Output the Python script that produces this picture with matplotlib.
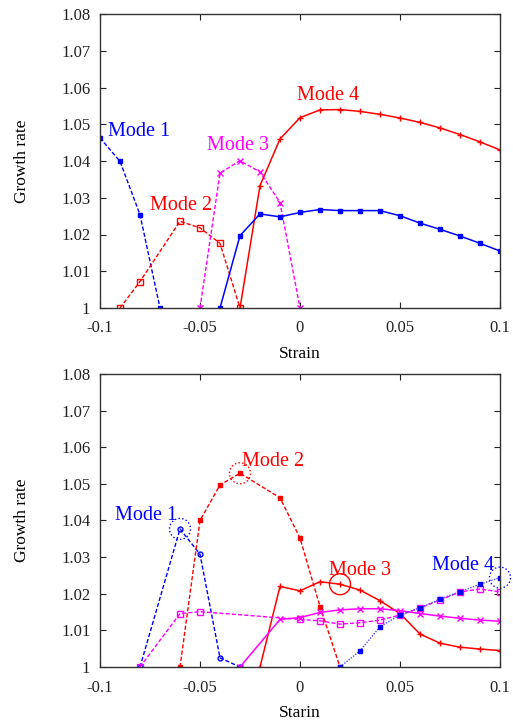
import numpy as np
import matplotlib
matplotlib.use("Agg")
import matplotlib.pyplot as plt
from matplotlib.patches import Circle
from matplotlib.transforms import ScaledTranslation

plt.rcParams['font.family'] = ['Liberation Serif', 'DejaVu Serif']
plt.rcParams['font.size'] = 12

# ---- top panel data ----
t_m1_x = [-0.1, -0.09, -0.08, -0.07]
t_m1_y = [1.0463, 1.0399, 1.0254, 1.0]
t_m2_x = [-0.09, -0.08, -0.06, -0.05, -0.04, -0.03]
t_m2_y = [1.0, 1.0072, 1.0236, 1.0218, 1.0176, 1.0]
t_m3_x = [-0.05, -0.04, -0.03, -0.02, -0.01, 0.0]
t_m3_y = [1.0, 1.0367, 1.0401, 1.0370, 1.0287, 1.0]
t_m4_x = [-0.03, -0.02, -0.01, 0.0, 0.01, 0.02, 0.03, 0.04, 0.05, 0.06, 0.07, 0.08, 0.09, 0.1]
t_m4_y = [1.0, 1.0333, 1.0460, 1.0518, 1.0539, 1.0540, 1.0535, 1.0527, 1.0517,
          1.0505, 1.0490, 1.0472, 1.0452, 1.0430]
t_b_x = [-0.04, -0.03, -0.02, -0.01, 0.0, 0.01, 0.02, 0.03, 0.04, 0.05, 0.06, 0.07, 0.08, 0.09, 0.1]
t_b_y = [1.0, 1.0197, 1.0256, 1.0248, 1.0260, 1.0268, 1.0265, 1.0265, 1.0265,
         1.0251, 1.0231, 1.0214, 1.0196, 1.0176, 1.0155]

# ---- bottom panel data ----
b_m1_x = [-0.08, -0.06, -0.05, -0.04, -0.03]
b_m1_y = [1.0, 1.0377, 1.0308, 1.0025, 1.0]
b_m2_x = [-0.06, -0.05, -0.04, -0.03, -0.01, 0.0, 0.01, 0.02]
b_m2_y = [1.0, 1.0400, 1.0497, 1.0529, 1.0462, 1.0352, 1.0165, 1.0]
b_m3_x = [-0.02, -0.01, 0.0, 0.01, 0.02, 0.03, 0.04, 0.05, 0.06, 0.07, 0.08, 0.09, 0.1]
b_m3_y = [1.0, 1.0220, 1.0208, 1.0233, 1.0226, 1.0210, 1.0181, 1.0146, 1.0090,
          1.0065, 1.0054, 1.0049, 1.0045]
b_pd_x = [-0.08, -0.06, -0.05, 0.0, 0.01, 0.02, 0.03, 0.04, 0.05, 0.06, 0.07, 0.08, 0.09, 0.1]
b_pd_y = [1.0, 1.0146, 1.0151, 1.0130, 1.0126, 1.0117, 1.0121, 1.0128, 1.0142,
          1.0161, 1.0183, 1.0205, 1.0213, 1.0205]
b_ps_x = [-0.03, -0.01, 0.0, 0.01, 0.02, 0.03, 0.04, 0.05, 0.06, 0.07, 0.08, 0.09, 0.1]
b_ps_y = [1.0, 1.0130, 1.0135, 1.0149, 1.0156, 1.0159, 1.0159, 1.0154, 1.0146,
          1.0139, 1.0133, 1.0128, 1.0125]
b_m4_x = [0.02, 0.03, 0.04, 0.05, 0.06, 0.07, 0.08, 0.09, 0.1]
b_m4_y = [1.0, 1.0044, 1.0110, 1.0142, 1.0162, 1.0185, 1.0206, 1.0226, 1.0244]

# highlighted points (circled)
circ_x = [-0.06, -0.03, 0.02, 0.1]
circ_y = [1.0377, 1.0529, 1.0226, 1.0244]

BLUE, RED, MAG = '#0000ff', '#ff0000', '#ff00ff'
DASH = (0, (3, 1.5))

fig = plt.figure(figsize=(5.13, 7.2), dpi=100)
ax1 = fig.add_axes([100/513, 1 - 308/720, 400/513, 294/720])
ax2 = fig.add_axes([100/513, 1 - 667/720, 400/513, 293/720])

ax1.plot(t_m1_x, t_m1_y, color=BLUE, ls=DASH, lw=1, marker='s', ms=3.5)
ax1.plot(t_m2_x, t_m2_y, color=RED, ls=DASH, lw=1, marker='s', ms=4, mfc='none')
ax1.plot(t_m3_x, t_m3_y, color=MAG, ls=DASH, lw=1, marker='x', ms=4)
ax1.plot(t_m4_x, t_m4_y, color=RED, ls='-', lw=1.1, marker='+', ms=4)
ax1.plot(t_b_x, t_b_y, color=BLUE, ls='-', lw=1.1, marker='s', ms=3.5)

ax1.text(-0.096, 1.0468, 'Mode 1', color=BLUE, fontsize=14.5)
ax1.text(-0.075, 1.0268, 'Mode 2', color=RED, fontsize=14.5)
ax1.text(-0.0465, 1.0430, 'Mode 3', color=MAG, fontsize=14.5)
ax1.text(-0.0015, 1.0567, 'Mode 4', color=RED, fontsize=14.5)

ax2.plot(b_m1_x, b_m1_y, color=BLUE, ls=DASH, lw=1, marker='o', ms=3.5, mfc='none')
ax2.plot(b_m2_x, b_m2_y, color=RED, ls=DASH, lw=1, marker='s', ms=3.5)
ax2.plot(b_m3_x, b_m3_y, color=RED, ls='-', lw=1.1, marker='+', ms=4)
ax2.plot(b_pd_x, b_pd_y, color=MAG, ls=DASH, lw=1, marker='s', ms=4, mfc='none')
ax2.plot(b_ps_x, b_ps_y, color=MAG, ls='-', lw=1.1, marker='x', ms=4)
ax2.plot(b_m4_x, b_m4_y, color='#5050ff', ls=(0, (1, 1)), lw=1, marker='s', ms=3.5,
         mfc=BLUE, mec=BLUE)

circ_col = [BLUE, RED, RED, BLUE]
circ_ls = [':', ':', '-', ':']
for cx, cy, cc, cl in zip(circ_x, circ_y, circ_col, circ_ls):
    tr = fig.dpi_scale_trans + ScaledTranslation(cx, cy, ax2.transData)
    ax2.add_patch(Circle((0, 0), 0.105, transform=tr, fill=False, ec=cc,
                         ls=cl, lw=1, clip_on=False))

ax2.text(-0.0925, 1.0400, 'Mode 1', color=BLUE, fontsize=14.5)
ax2.text(-0.0290, 1.0550, 'Mode 2', color=RED, fontsize=14.5)
ax2.text(0.0145, 1.0250, 'Mode 3', color=RED, fontsize=14.5)
ax2.text(0.0660, 1.0266, 'Mode 4', color=BLUE, fontsize=14.5)

for ax, xl in ((ax1, 'Strain'), (ax2, 'Starin')):
    ax.set_xlim(-0.1, 0.1)
    ax.set_ylim(1.0, 1.08)
    ax.set_xticks([-0.1, -0.05, 0, 0.05, 0.1])
    ax.set_xticklabels(['-0.1', '-0.05', '0', '0.05', '0.1'])
    ax.set_yticks(np.arange(1.0, 1.0801, 0.01))
    ax.set_yticklabels(['1'] + ['%.2f' % v for v in np.arange(1.01, 1.0801, 0.01)])
    ax.tick_params(axis='x', pad=9)
    ax.tick_params(axis='y', pad=7)
    ax.tick_params(direction='in', top=True, right=True, length=4, width=0.8,
                   labelsize=12, colors='#222222')
    for s in ax.spines.values():
        s.set_linewidth(1.0)
        s.set_color('#333333')
    ax.set_xlabel(xl, fontsize=12.5, labelpad=7)
    ax.set_ylabel('Growth rate', fontsize=12.5, labelpad=22)

fig.savefig('out.png', dpi=100)
